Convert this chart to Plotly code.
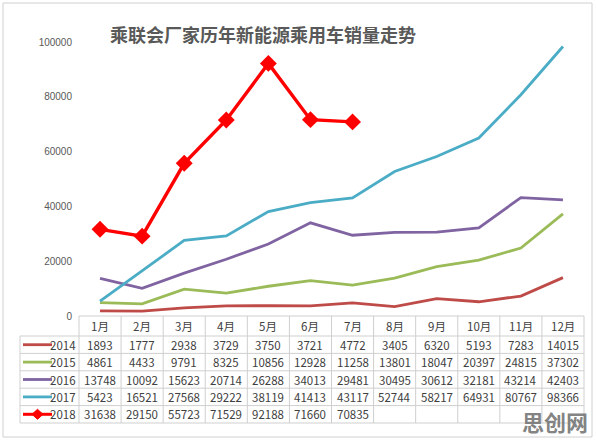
import plotly.graph_objects as go

months = ["1月", "2月", "3月", "4月", "5月", "6月", "7月", "8月", "9月", "10月", "11月", "12月"]
years = ["2014", "2015", "2016", "2017", "2018"]
s2014 = [1893, 1777, 2938, 3729, 3750, 3721, 4772, 3405, 6320, 5193, 7283, 14015]
s2015 = [4861, 4433, 9791, 8325, 10856, 12928, 11258, 13801, 18047, 20397, 24815, 37302]
s2016 = [13748, 10092, 15623, 20714, 26288, 34013, 29481, 30495, 30612, 32181, 43214, 42403]
s2017 = [5423, 16521, 27568, 29222, 38119, 41413, 43117, 52744, 58217, 64931, 80767, 98366]
s2018 = [31638, 29150, 55723, 71529, 92188, 71660, 70835]
series = [s2014, s2015, s2016, s2017, s2018]
colors = ["#BE4B48", "#9BBB59", "#8064A2", "#4BACC6", "#FF0000"]
title = "乘联会厂家历年新能源乘用车销量走势"
watermark = "思创网"

W, H = 596, 441
ML, MR, MT, MB = 79, 12, 42, 18
PW, PH = W - ML - MR, H - MT - MB
AX_BOTTOM = 316


def px(x):
    return (x - ML) / PW


def py(y):
    return (H - MB - y) / PH


n = len(months)
xs = list(range(n))
fig = go.Figure()
for yr, vals, c in zip(years, series, colors):
    is18 = yr == "2018"
    fig.add_trace(go.Scatter(
        x=xs[:len(vals)], y=vals, mode="lines+markers" if is18 else "lines",
        name=yr, line=dict(color=c, width=3.4 if is18 else 2.8),
        marker=dict(symbol="diamond", size=13, color=c) if is18 else None,
        showlegend=False, cliponaxis=False,
    ))

shapes = []
annotations = []
grid = "#CFCFCF"
txt = "#404040"
row_edges = [AX_BOTTOM, 336, 353.4, 370.8, 388.2, 405.6, 423]
FONT = "Noto Sans CJK SC"


def colx(k):
    return k / n


def label(x, y, text, size=11.5, color=txt, xanchor="center", bold=False):
    annotations.append(dict(x=x, y=y, xref="paper", yref="paper", text=f"<b>{text}</b>" if bold else text,
                            showarrow=False, xanchor=xanchor, yanchor="middle",
                            font=dict(size=size, color=color, family=FONT)))


shapes.append(dict(type="rect", xref="paper", yref="paper", x0=px(3), x1=px(592), y0=py(3), y1=py(437),
                   line=dict(color="#D0D0D0", width=1), layer="below"))
shapes.append(dict(type="line", xref="paper", yref="paper", x0=0, x1=1, y0=py(row_edges[0]), y1=py(row_edges[0]),
                   line=dict(color=grid, width=1)))
for e in row_edges[1:]:
    shapes.append(dict(type="line", xref="paper", yref="paper", x0=px(20), x1=1, y0=py(e), y1=py(e),
                       line=dict(color=grid, width=1)))
for k in range(n + 1):
    shapes.append(dict(type="line", xref="paper", yref="paper", x0=colx(k), x1=colx(k),
                       y0=py(row_edges[0]), y1=py(row_edges[-1]), line=dict(color=grid, width=1)))
shapes.append(dict(type="line", xref="paper", yref="paper", x0=px(20), x1=px(20),
                   y0=py(row_edges[1]), y1=py(row_edges[-1]), line=dict(color=grid, width=1)))

hc = (row_edges[0] + row_edges[1]) / 2
for i, m in enumerate(months):
    label((i + 0.5) / n, py(hc), m)
for r, (yr, vals, c) in enumerate(zip(years, series, colors)):
    yc = (row_edges[r + 1] + row_edges[r + 2]) / 2
    shapes.append(dict(type="line", xref="paper", yref="paper", x0=px(23), x1=px(52), y0=py(yc), y1=py(yc),
                       line=dict(color=c, width=3 if yr == "2018" else 2.8)))
    if yr == "2018":
        shapes.append(dict(type="path", xref="paper", yref="paper",
                           path=f"M {px(32)} {py(yc)} L {px(37.5)} {py(yc-5)} L {px(43)} {py(yc)} L {px(37.5)} {py(yc+5)} Z",
                           fillcolor=c, line=dict(color=c, width=1)))
    label(px(78), py(yc), yr, xanchor="right")
    for i, v in enumerate(vals):
        label((i + 0.5) / n, py(yc), str(v))

label(px(263), py(34), title, size=18, color="#595959", bold=True)
label(px(590), py(421), watermark, size=22, color="rgba(115,115,115,0.9)", xanchor="right", bold=True)

fig.update_layout(
    width=W, height=H, margin=dict(l=ML, r=MR, t=MT, b=MB),
    paper_bgcolor="white", plot_bgcolor="white",
    xaxis=dict(range=[-0.5, n - 0.5], showgrid=False, zeroline=False, showticklabels=False, showline=False,
               fixedrange=True),
    yaxis=dict(domain=[py(AX_BOTTOM), 1], range=[0, 100000], tickvals=[0, 20000, 40000, 60000, 80000, 100000],
               tickformat="d", showgrid=False, zeroline=False, showline=False, ticks="",
               ticklabelstandoff=6, tickfont=dict(size=10, color="#595959", family="Liberation Sans")),
    shapes=shapes, annotations=annotations,
)
fig.write_html("out.html")
